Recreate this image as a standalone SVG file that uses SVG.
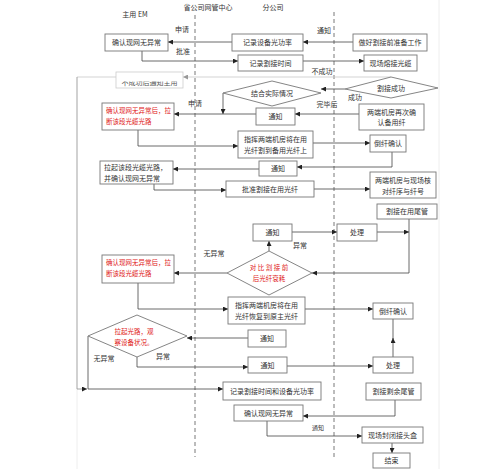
<svg xmlns="http://www.w3.org/2000/svg" width="500" height="469" viewBox="0 0 500 469">
<style>
text{font-family:"Noto Sans CJK SC","Noto Sans",sans-serif;font-size:7px;fill:#333;}
.c{text-anchor:middle;}
.red{fill:#e02020;font-size:6.5px;}
.box{fill:#fff;stroke:#777;stroke-width:0.9;}
.dia{fill:#fff;stroke:#777;stroke-width:0.9;}
.ln{fill:none;stroke:#444;stroke-width:0.8;}
.lt{fill:none;stroke:#c8c8c8;stroke-width:0.8;}
.lane{stroke:#555;stroke-width:0.8;stroke-dasharray:4,3;}
.pg{stroke:#eee;stroke-width:1;}
</style>
<defs>
<marker id="a" markerUnits="userSpaceOnUse" markerWidth="5" markerHeight="5" refX="5" refY="2.5" orient="auto"><path d="M0,0L5,2.5L0,5z" fill="#222"/></marker>
<marker id="al" markerUnits="userSpaceOnUse" markerWidth="5" markerHeight="5" refX="5" refY="2.5" orient="auto"><path d="M0,0L5,2.5L0,5z" fill="#999"/></marker>
<clipPath id="half"><rect x="116" y="81.5" width="68" height="8"/></clipPath>
</defs>
<rect width="500" height="469" fill="#fff"/>
<g id="page">
<line class="pg" x1="77" y1="389" x2="77" y2="469"/>
<line class="pg" x1="439" y1="0" x2="439" y2="469"/>
</g>
<g id="lanes">
<text class="c" x="135" y="17">主用 EM</text>
<text class="c" x="208" y="10">省公司网管中心</text>
<text class="c" x="273" y="10">分公司</text>
<line class="lane" x1="195" y1="15" x2="195" y2="457"/>
<line class="lane" x1="334" y1="12" x2="334" y2="457"/>
</g>
<g id="connectors">
<path class="ln" d="M232,42H168" marker-end="url(#a)"/>
<path class="ln" d="M353,42H303" marker-end="url(#a)"/>
<path class="ln" d="M142,51V61H238" marker-end="url(#a)"/>
<path class="ln" d="M303,61H364" marker-end="url(#a)"/>
<path class="ln" d="M345,89H321" marker-end="url(#a)"/>
<path class="lt" d="M391,77H183" marker-end="url(#al)"/>
<path class="lt" d="M116,77H77"/>
<path d="M77,77V389H87" fill="none" stroke="#999" stroke-width="0.9" marker-end="url(#a)"/>
<path class="ln" d="M223,93V114" marker-end="url(#a)"/>
<path class="ln" d="M256,114H174" marker-end="url(#a)"/>
<path class="ln" d="M359,114H295" marker-end="url(#a)"/>
<path class="ln" d="M138,130V146H238" marker-end="url(#a)"/>
<path class="ln" d="M313,143H370" marker-end="url(#a)"/>
<path class="ln" d="M392,152V167H297" marker-end="url(#a)"/>
<path class="ln" d="M259,169H173" marker-end="url(#a)"/>
<path class="ln" d="M154,184V190H226" marker-end="url(#a)"/>
<path class="ln" d="M314,189H370" marker-end="url(#a)"/>
<path class="ln" d="M409,219V273H312" marker-end="url(#a)"/>
<path class="ln" d="M377,232H409" marker-end="url(#a)"/>
<path class="ln" d="M292,232H337" marker-end="url(#a)"/>
<path class="ln" d="M269,251V241" marker-end="url(#a)"/>
<path class="ln" d="M227,273H174" marker-end="url(#a)"/>
<path class="ln" d="M138,283V309H228" marker-end="url(#a)"/>
<path class="ln" d="M305,309H373" marker-end="url(#a)"/>
<path class="ln" d="M393,357V338" marker-end="url(#a)"/>
<path class="ln" d="M393,339V319"/>
<path class="ln" d="M248,338H187" marker-end="url(#a)"/>
<path class="ln" d="M137,357V367H248" marker-end="url(#a)"/>
<path class="ln" d="M287,366H373" marker-end="url(#a)"/>
<path class="ln" d="M88,336V389H223" marker-end="url(#a)"/>
<path class="ln" d="M395,400V416H303" marker-end="url(#a)"/>
<path class="ln" d="M267,421V436H362" marker-end="url(#a)"/>
<path class="ln" d="M392,443V453" marker-end="url(#a)"/>
</g>
<g id="labels">
<text class="c" x="182" y="32">申请</text>
<text class="c" x="324" y="33">通知</text>
<text class="c" x="183" y="54">批准</text>
<text class="c" x="322" y="74">不成功</text>
<text class="c" x="355" y="100">成功</text>
<text class="c" x="327" y="107">完毕后</text>
<text class="c" x="195" y="106">申请</text>
<text class="c" x="300" y="248">异常</text>
<text class="c" x="214" y="256">无异常</text>
<text class="c" x="104" y="361">无异常</text>
<text class="c" x="163" y="359">异常</text>
<text class="c" x="318" y="430" style="font-size:6px">通知</text>
</g>
<g id="n1"><rect class="box" x="105" y="34" width="63" height="17"/><text class="c" x="136.5" y="45">确认现网无异常</text></g>
<g id="n2"><rect class="box" x="232" y="34" width="71" height="17"/><text class="c" x="267.5" y="45">记录设备光功率</text></g>
<g id="n3"><rect class="box" x="353" y="34" width="74" height="17"/><text class="c" x="390" y="45">做好割接前准备工作</text></g>
<g id="n4"><rect class="box" x="238" y="55" width="65" height="16"/><text class="c" x="270.5" y="65.5">记录割接时间</text></g>
<g id="n5"><rect class="box" x="364" y="55" width="53" height="16"/><text class="c" x="390.5" y="65.5">现场熔接光缆</text></g>
<g id="n6"><rect x="116" y="72" width="67" height="16" fill="#fff" stroke="#ccc" stroke-width="0.8"/><text class="c" x="149.5" y="85" clip-path="url(#half)" style="fill:#555">不成功后通知主用</text></g>
<g id="d1"><polygon class="dia" points="345,89 391,77 438,88 391,98"/><text class="c" x="391" y="90.5">割接成功</text></g>
<g id="d2"><polygon class="dia" points="223,93 272,81 321,93 272,106"/><text class="c" x="272" y="95.5">结合实际情况</text></g>
<g id="n7"><rect class="box" x="256" y="108" width="39" height="17"/><text class="c" x="275.5" y="119">通知</text></g>
<g id="n8"><rect class="box" x="359" y="104" width="65" height="26"/><text class="c" x="391.5" y="114.5">两端机房再次确</text><text class="c" x="391.5" y="125">认备用纤</text></g>
<g id="n9"><rect class="box" x="102" y="103" width="72" height="27"/><text class="red" x="106" y="113">确认现网无异常后，拉</text><text class="red" x="106" y="124">断该段光缆光路</text></g>
<g id="n10"><rect class="box" x="238" y="131" width="75" height="27"/><text class="c" x="275.5" y="141.5">指挥两端机房将在用</text><text class="c" x="275.5" y="152.5">光纤割到备用光纤上</text></g>
<g id="n11"><rect class="box" x="370" y="135" width="36" height="17"/><text class="c" x="388" y="146">倒纤确认</text></g>
<g id="n12"><rect class="box" x="259" y="161" width="38" height="15"/><text class="c" x="278" y="171">通知</text></g>
<g id="n13"><rect class="box" x="100" y="161" width="73" height="23"/><text x="104" y="170">拉起该段光缆光路，</text><text x="104" y="180.5">并确认现网无异常</text></g>
<g id="n14"><rect class="box" x="226" y="181" width="88" height="16"/><text class="c" x="270" y="191.5">批准割接在用光纤</text></g>
<g id="n15"><rect class="box" x="370" y="172" width="66" height="26"/><text class="c" x="403" y="182.5">两端机房与现场核</text><text class="c" x="403" y="193.5">对纤序与纤号</text></g>
<g id="n16"><rect class="box" x="377" y="204" width="60" height="15"/><text class="c" x="407" y="214">割接在用尾管</text></g>
<g id="n17"><rect class="box" x="253" y="224" width="39" height="17"/><text class="c" x="272.5" y="235">通知</text></g>
<g id="n18"><rect class="box" x="337" y="224" width="40" height="17"/><text class="c" x="357" y="235">处理</text></g>
<g id="d3"><polygon class="dia" points="227,273 269,251 312,273 269,295"/><text class="red c" x="269" y="270">对 比 割 接 前</text><text class="red c" x="269" y="281">后光纤衰耗</text></g>
<g id="n19"><rect class="box" x="102" y="255" width="72" height="28"/><text class="red" x="106" y="265">确认现网无异常后，拉</text><text class="red" x="106" y="276">断该段光缆光路</text></g>
<g id="n20"><rect class="box" x="228" y="297" width="77" height="27"/><text class="c" x="266.5" y="307.5">指挥两端机房将在用</text><text class="c" x="266.5" y="318.5">光纤恢复到原主光纤</text></g>
<g id="n21"><rect class="box" x="373" y="303" width="40" height="16"/><text class="c" x="393" y="313.5">倒纤确认</text></g>
<g id="d4"><polygon class="dia" points="88,336 137,315 187,336 137,357"/><text class="red c" x="134" y="334">拉起光路，观</text><text class="red c" x="134" y="345">察设备状况。</text></g>
<g id="n22"><rect class="box" x="248" y="330" width="38" height="17"/><text class="c" x="267" y="341">通知</text></g>
<g id="n23"><rect class="box" x="248" y="357" width="39" height="16"/><text class="c" x="267.5" y="367.5">通知</text></g>
<g id="n24"><rect class="box" x="373" y="357" width="40" height="16"/><text class="c" x="393" y="367.5">处理</text></g>
<g id="n25"><rect class="box" x="223" y="382" width="98" height="18"/><text class="c" x="272" y="393.5">记录割接时间和设备光功率</text></g>
<g id="n26"><rect class="box" x="366" y="383" width="55" height="17"/><text class="c" x="393.5" y="394">割接剩余尾管</text></g>
<g id="n27"><rect class="box" x="234" y="405" width="69" height="16"/><text class="c" x="268.5" y="415.5">确认现网无异常</text></g>
<g id="n28"><rect class="box" x="362" y="427" width="61" height="16"/><text class="c" x="392.5" y="437.5">现场封闭接头盒</text></g>
<g id="n29"><rect class="box" x="373" y="453" width="37" height="15"/><text class="c" x="391.5" y="463">结束</text></g>
</svg>
